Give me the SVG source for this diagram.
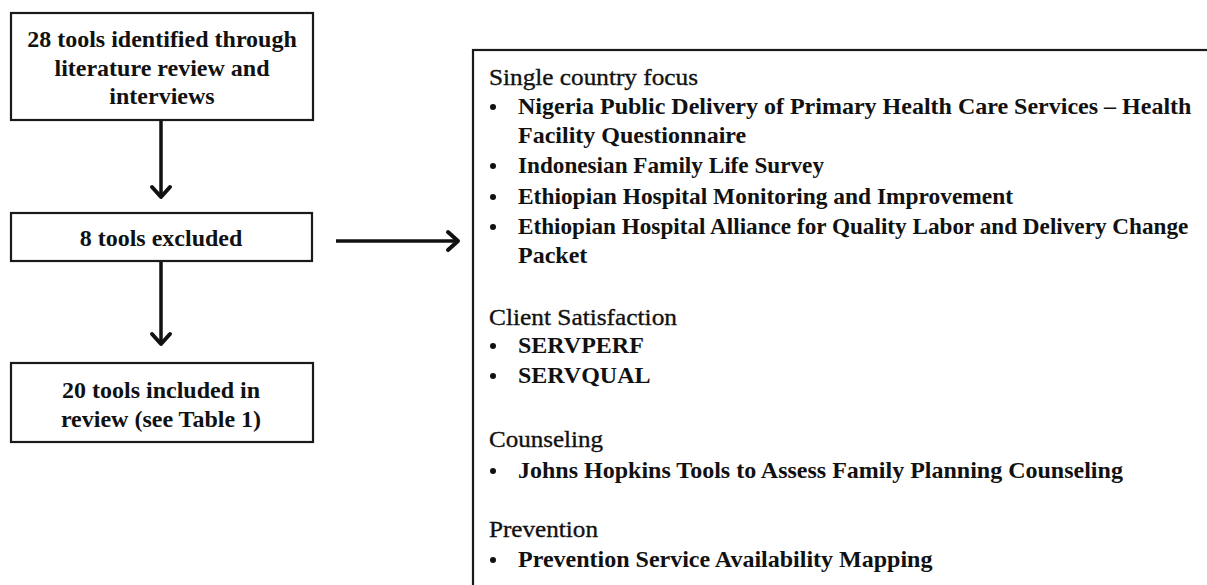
<svg xmlns="http://www.w3.org/2000/svg" width="1207" height="585" viewBox="0 0 1207 585">
  <style>
    .box { fill: #fff; stroke: #1a1a1a; stroke-width: 2.2; }
    .flow { stroke: #111; stroke-width: 3.5; fill: none; }
    .head { stroke: #111; stroke-width: 4; fill: none; stroke-linecap: round; stroke-linejoin: round; }
    .lbl { font-family: "Liberation Serif", "Times New Roman", serif; font-size: 24px; font-weight: bold; fill: #111; text-anchor: middle; }
    .hdr { font-family: "Liberation Serif", "Times New Roman", serif; font-size: 24px; fill: #111; stroke: #111; stroke-width: 0.35; }
    .item { font-family: "Liberation Serif", "Times New Roman", serif; font-size: 24px; font-weight: bold; fill: #111; }
    .dot { fill: #111; }
  </style>
  <rect width="1207" height="585" fill="#fff"/>

  <g id="connectors">
    <line class="flow" x1="161" y1="121" x2="161" y2="196"/>
    <polyline class="head" points="152,187 161,197 170,187"/>
    <line class="flow" x1="161" y1="262" x2="161" y2="343"/>
    <polyline class="head" points="152,334 161,344 170,334"/>
    <line class="flow" x1="336" y1="241" x2="457" y2="241"/>
    <polyline class="head" points="448,232 458,241 448,250"/>
  </g>

  <g id="node-identified">
    <rect class="box" x="11" y="13" width="302" height="107"/>
    <text class="lbl" x="162" y="47">28 tools identified through</text>
    <text class="lbl" x="162" y="76">literature review and</text>
    <text class="lbl" x="162" y="104">interviews</text>
  </g>

  <g id="node-excluded">
    <rect class="box" x="11" y="213" width="301" height="48"/>
    <text class="lbl" x="161" y="246">8 tools excluded</text>
  </g>

  <g id="node-included">
    <rect class="box" x="11" y="363" width="302" height="79"/>
    <text class="lbl" x="161" y="398">20 tools included in</text>
    <text class="lbl" x="161" y="427">review (see Table 1)</text>
  </g>

  <g id="node-excluded-list">
    <rect class="box" x="473" y="50" width="760" height="560"/>
    <text class="hdr" x="489" y="85" textLength="209" lengthAdjust="spacingAndGlyphs">Single country focus</text>
    <circle class="dot" cx="493" cy="107" r="3"/>
    <text class="item" x="518" y="114">Nigeria Public Delivery of Primary Health Care Services – Health</text>
    <text class="item" x="518" y="143">Facility Questionnaire</text>
    <circle class="dot" cx="493" cy="166" r="3"/>
    <text class="item" x="518" y="173" textLength="306" lengthAdjust="spacingAndGlyphs">Indonesian Family Life Survey</text>
    <circle class="dot" cx="493" cy="197" r="3"/>
    <text class="item" x="518" y="204" textLength="495" lengthAdjust="spacingAndGlyphs">Ethiopian Hospital Monitoring and Improvement</text>
    <circle class="dot" cx="493" cy="227" r="3"/>
    <text class="item" x="518" y="234" style="font-size:23.2px">Ethiopian Hospital Alliance for Quality Labor and Delivery Change</text>
    <text class="item" x="518" y="263">Packet</text>

    <text class="hdr" x="489" y="325" textLength="188" lengthAdjust="spacingAndGlyphs">Client Satisfaction</text>
    <circle class="dot" cx="493" cy="346" r="3"/>
    <text class="item" x="518" y="353">SERVPERF</text>
    <circle class="dot" cx="493" cy="376" r="3"/>
    <text class="item" x="518" y="383">SERVQUAL</text>

    <text class="hdr" x="489" y="447" textLength="114" lengthAdjust="spacingAndGlyphs">Counseling</text>
    <circle class="dot" cx="493" cy="471" r="3"/>
    <text class="item" x="518" y="478">Johns Hopkins Tools to Assess Family Planning Counseling</text>

    <text class="hdr" x="489" y="537" textLength="109" lengthAdjust="spacingAndGlyphs">Prevention</text>
    <circle class="dot" cx="493" cy="560" r="3"/>
    <text class="item" x="518" y="567">Prevention Service Availability Mapping</text>
  </g>
</svg>
